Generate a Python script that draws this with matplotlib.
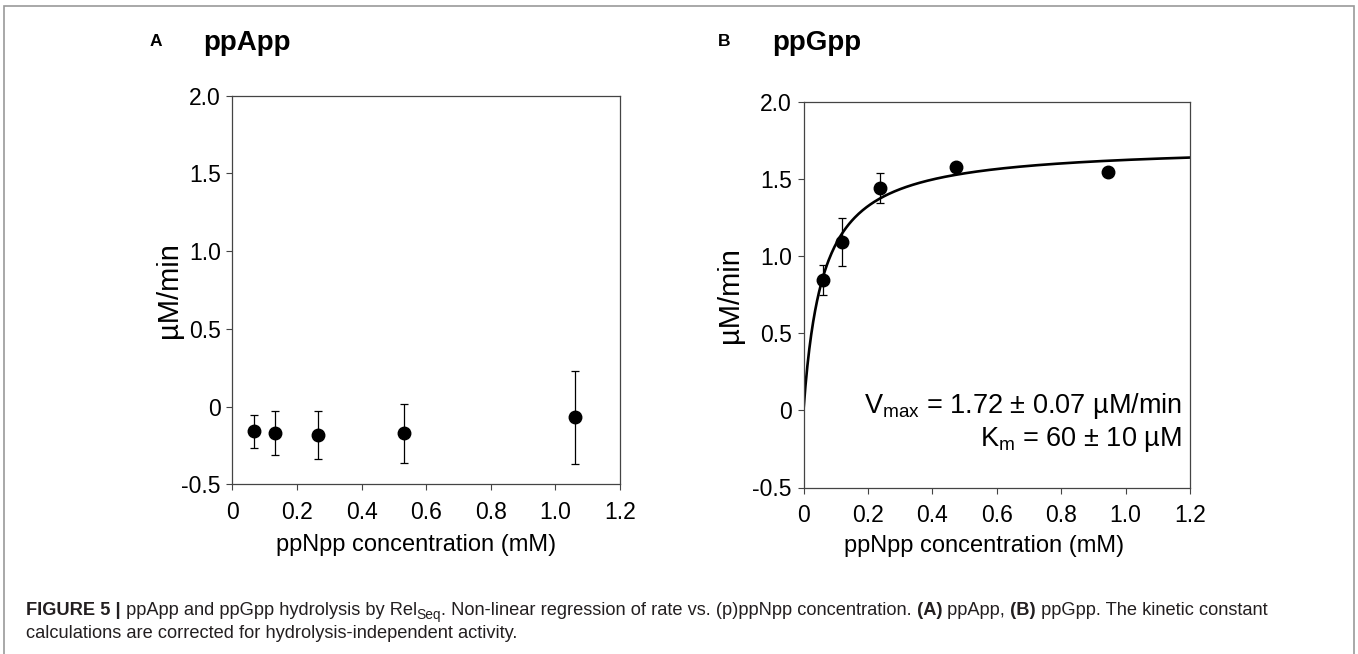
import numpy as np
import matplotlib
matplotlib.use('Agg')
import matplotlib.pyplot as plt
from matplotlib.patches import Rectangle

plt.rcParams['font.family'] = ['Liberation Sans', 'DejaVu Sans']
plt.rcParams['mathtext.fontset'] = 'custom'
plt.rcParams['mathtext.rm'] = 'Liberation Sans'
plt.rcParams['mathtext.bf'] = 'Liberation Sans:bold'

# panel A - ppApp
conc_A = [0.066, 0.133, 0.265, 0.53, 1.06]
rate_A = [-0.16, -0.17, -0.185, -0.172, -0.068]
err_A = [0.105, 0.14, 0.155, 0.19, 0.30]

# panel B - ppGpp
conc_B = [0.059, 0.118, 0.236, 0.472, 0.944]
rate_B = [0.845, 1.093, 1.442, 1.574, 1.544]
err_B = [0.095, 0.155, 0.096, 0.02, 0.02]

# Michaelis-Menten fit shown in panel B
VMAX = 1.72   # uM/min
KM = 0.060    # mM

xticks = [0, 0.2, 0.4, 0.6, 0.8, 1.0, 1.2]
xticklabels = ['0', '0.2', '0.4', '0.6', '0.8', '1.0', '1.2']
yticks = [-0.5, 0, 0.5, 1.0, 1.5, 2.0]
yticklabels = ['-0.5', '0', '0.5', '1.0', '1.5', '2.0']

W, H = 1358, 654
fig = plt.figure(figsize=(W / 100, H / 100), dpi=100)
fig.patch.set_facecolor('white')

# outer frame of the figure box
fig.add_artist(Rectangle((4 / W, -0.05), 1350 / W, 1 - 6 / H + 0.05, transform=fig.transFigure,
                         fill=False, edgecolor='#9a9a9a', lw=1.2, clip_on=False))


def px_axes(left, top, right, bottom):
    return fig.add_axes([left / W, 1 - bottom / H, (right - left) / W, (bottom - top) / H])


def style(ax):
    ax.set_xlim(0, 1.2)
    ax.set_ylim(-0.5, 2.0)
    ax.set_xticks(xticks)
    ax.set_xticklabels(xticklabels)
    ax.set_yticks(yticks)
    ax.set_yticklabels(yticklabels)
    for s in ax.spines.values():
        s.set_color('#444444')
        s.set_linewidth(0.9)
    ax.tick_params(direction='out', length=4, width=0.8, color='#444444', labelsize=16.5)
    ax.tick_params(axis='x', pad=8)
    ax.tick_params(axis='y', pad=4.3)


axA = px_axes(232.3, 95.7, 620, 484.3)
style(axA)
axA.errorbar(conc_A, rate_A, yerr=err_A, fmt='o', color='black', ms=9,
             ecolor='black', elinewidth=0.9, capsize=3, capthick=0.9)
axA.set_ylabel('µM/min', fontsize=21)
axA.yaxis.set_label_coords(-0.126, 0.5)
axA.set_xlabel('ppNpp concentration (mM)', fontsize=17, va='top')
axA.xaxis.set_label_coords(0.475, -0.128)

axB = px_axes(803.5, 101.7, 1190, 487.5)
style(axB)
xfit = np.linspace(0, 1.2, 400)
axB.plot(xfit, VMAX * xfit / (KM + xfit), color='black', lw=1.9)
axB.errorbar(conc_B, rate_B, yerr=err_B, fmt='o', color='black', ms=9,
             ecolor='black', elinewidth=0.9, capsize=3, capthick=0.9)
axB.set_ylabel('µM/min', fontsize=21)
axB.yaxis.set_label_coords(-0.155, 0.5)
axB.set_xlabel('ppNpp concentration (mM)', fontsize=17, va='top')
axB.xaxis.set_label_coords(0.467, -0.123)
axB.text(0.9785, 0.1944, r'V$_{\mathrm{max}}$ = 1.72 ± 0.07 µM/min', transform=axB.transAxes,
         ha='right', va='baseline', fontsize=19.5)
axB.text(0.9785, 0.1065, r'K$_{\mathrm{m}}$ = 60 ± 10 µM', transform=axB.transAxes,
         ha='right', va='baseline', fontsize=19.5)

# panel letters and titles
fig.text(150 / W, 1 - 45.7 / H, 'A', fontsize=12.5, fontweight='bold', va='baseline')
fig.text(203 / W, 1 - 50 / H, 'ppApp', fontsize=20, fontweight='bold', va='baseline')
fig.text(718 / W, 1 - 45.7 / H, 'B', fontsize=12.5, fontweight='bold', va='baseline')
fig.text(772 / W, 1 - 50 / H, 'ppGpp', fontsize=20, fontweight='bold', va='baseline')

# caption, drawn run by run so the bold parts and subscript line up
cap_size = 13.15
cap_color = '#231f20'
line1 = [('FIGURE 5 |', 'bold', 1.0, 0),
         (' ppApp and ppGpp hydrolysis by Rel', 'normal', 1.0, 0),
         ('Seq', 'normal', 0.75, -4),
         ('. Non-linear regression of rate vs. (p)ppNpp concentration.', 'normal', 1.0, 0),
         (' (A)', 'bold', 1.0, 0),
         (' ppApp,', 'normal', 1.0, 0),
         (' (B)', 'bold', 1.0, 0),
         (' ppGpp. The kinetic constant', 'normal', 1.0, 0)]
line2 = [('calculations are corrected for hydrolysis-independent activity.', 'normal', 1.0, 0)]

renderer = fig.canvas.get_renderer()
for runs, base in [(line1, 615), (line2, 638)]:
    x = 26
    for txt, weight, scale, dy in runs:
        t = fig.text(x / W, 1 - (base - dy) / H, txt, fontsize=cap_size * scale,
                     fontweight=weight, color=cap_color, va='baseline')
        x += t.get_window_extent(renderer).width

fig.savefig('out.png', dpi=100)
